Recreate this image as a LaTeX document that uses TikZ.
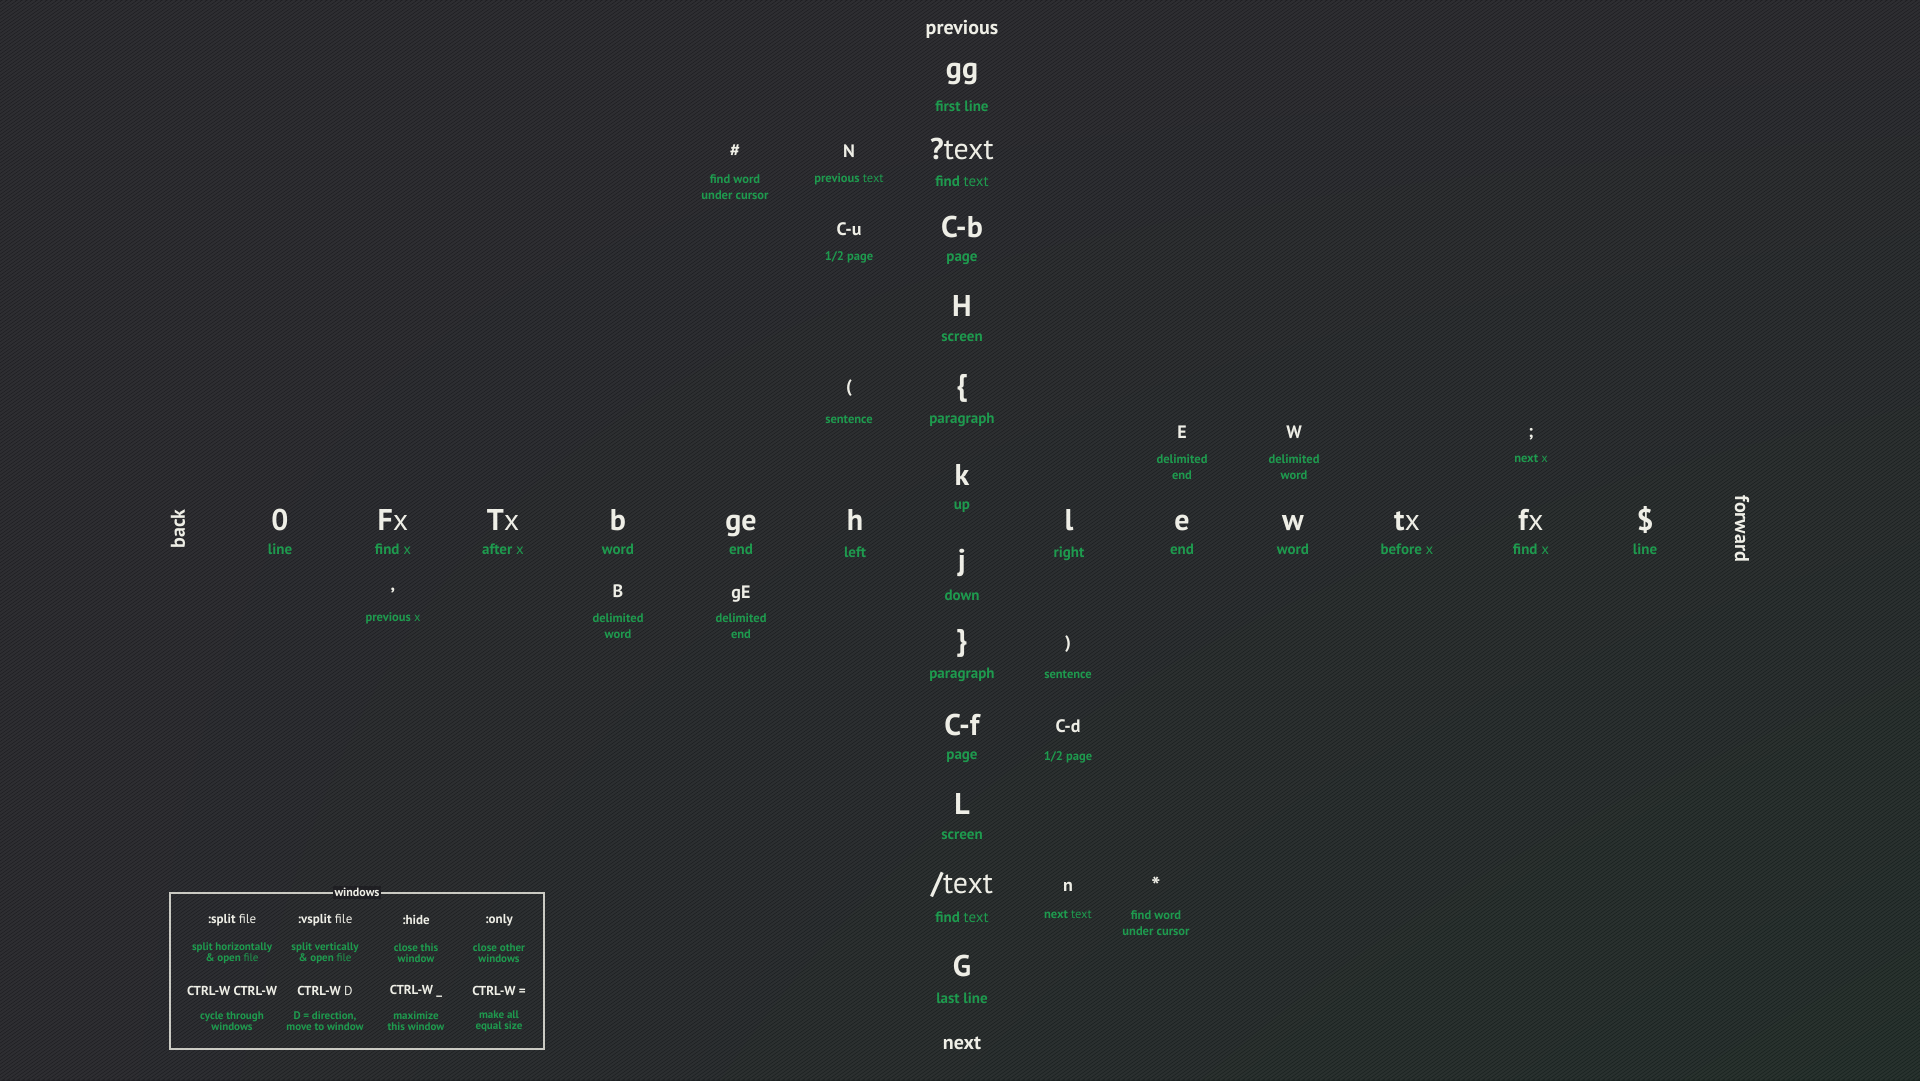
\documentclass[tikz,border=0pt]{standalone}
\usepackage{fontspec}
\setmainfont{PT Sans}
\usetikzlibrary{shadings}
\definecolor{bg}{HTML}{1F1F23}
\definecolor{bgg}{HTML}{18231F}
\definecolor{keyc}{HTML}{EEEEE6}
\definecolor{lbl}{HTML}{1E9A4E}
\begin{document}
\begin{tikzpicture}[x=1pt,y=-1pt,
bigkey/.style={text=keyc,inner sep=0,font=\bfseries\fontsize{30}{30}\selectfont},
smallkey/.style={text=keyc,inner sep=0,font=\bfseries\fontsize{18}{18}\selectfont},
lab/.style={text=lbl,inner sep=0,font=\bfseries\fontsize{15}{15}\selectfont},
sublab/.style={text=lbl,inner sep=0,align=center,font=\bfseries\fontsize{12.5}{15.5}\selectfont},
edge/.style={text=keyc,inner sep=0,font=\bfseries\fontsize{20}{20}\selectfont},
wcmd/.style={text=keyc,inner sep=0,font=\bfseries\fontsize{13}{13}\selectfont},
wlab/.style={text=lbl,inner sep=0,align=center,font=\bfseries\fontsize{11}{11.5}\selectfont}]
\shade[upper left=bg,upper right=bg,lower left=bg,lower right=bgg](0,0)rectangle(1920,1080);
\begin{scope}\clip(0,0)rectangle(1920,1080);
\foreach \i in {-1540,-1535,...,1920}\draw[white,opacity=.07,line width=2](\i,1080)--++(1540,-1080);
\end{scope}
\useasboundingbox(0,0)rectangle(1920,1080);
\node[edge](prev)at(962,29){previous};\node[edge](next)at(962,1043){next};
\node[edge,rotate=90](back)at(178,529){back};\node[edge,rotate=-90](fwd)at(1742,529){forward};
\foreach \n/\y/\k/\l in {gg/74/gg/{first line},qt/149/{?{\mdseries text}}/{find {\mdseries text}},Cb/227/C-b/page,H/306/H/screen,lb/388/\{/paragraph,k/475/k/up,j/563/j/down,rb/643/\}/paragraph,Cf/725/C-f/page,L/804/L/screen,sl/885/{/{\mdseries text}}/{find {\mdseries text}},G/966/G/{last line}}
{\node[bigkey](\n)at(962,\y){\k};\node[lab](\n-l)at(962,\y+32){\l};}
\node[smallkey](hash)at(735,151){\#};\node[sublab](hash-l)at(735,187){find word\\under cursor};
\node[smallkey](N)at(849,151){N};\node[sublab](N-l)at(849,179){previous {\mdseries text}};
\node[smallkey](Cu)at(849,229){C-u};\node[sublab](Cu-l)at(849,257){1/2 page};
\node[smallkey](lp)at(849,388){(};\node[sublab](lp-l)at(849,420){sentence};
\node[smallkey](rp)at(1068,644){)};\node[sublab](rp-l)at(1068,675){sentence};
\node[smallkey](Cd)at(1068,726){C-d};\node[sublab](Cd-l)at(1068,757){1/2 page};
\node[smallkey](n)at(1068,887){n};\node[sublab](n-l)at(1068,915){next {\mdseries text}};
\node[smallkey,font=\bfseries\fontsize{24}{24}\selectfont](star)at(1156,886){*};\node[sublab](star-l)at(1156,923){find word\\under cursor};
\foreach \n/\x/\k/\l in {zero/280/0/line,Fx/393/F{\mdseries x}/{find {\mdseries x}},Tx/503/T{\mdseries x}/{after {\mdseries x}},b/618/b/word,ge/741/ge/end,e/1182/e/end,w/1293/w/word,tx/1407/t{\mdseries x}/{before {\mdseries x}},fx/1531/f{\mdseries x}/{find {\mdseries x}},dollar/1645/\$/line}
{\node[bigkey,anchor=base](\n)at(\x,530){\k};\node[lab,anchor=base](\n-l)at(\x,554){\l};}
\node[bigkey,anchor=base](h)at(855,530){h};\node[lab,anchor=base](h-l)at(855,557){left};
\node[bigkey,anchor=base](l)at(1069,530){l};\node[lab,anchor=base](l-l)at(1069,557){right};
\node[smallkey](E)at(1182,432){E};\node[sublab](E-l)at(1182,467){delimited\\end};
\node[smallkey](W)at(1294,432){W};\node[sublab](W-l)at(1294,467){delimited\\word};
\node[smallkey](semi)at(1531,434){;};\node[sublab](semi-l)at(1531,459){next {\mdseries x}};
\node[smallkey](comma)at(393,591){,};\node[sublab](comma-l)at(393,618){previous {\mdseries x}};
\node[smallkey](B)at(618,591){B};\node[sublab](B-l)at(618,626){delimited\\word};
\node[smallkey](gE)at(741,594){gE};\node[sublab](gE-l)at(741,626){delimited\\end};
\node[draw=keyc!85!black,line width=1.2,minimum width=374,minimum height=156,inner sep=0](win)at(357,971){};
\node[fill=bg,text=keyc,inner sep=2,font=\bfseries\fontsize{12}{12}\selectfont](win-t)at(win.north){windows};
\foreach \n/\x/\c/\d/\k/\e in {sp/232/{:split {\mdseries file}}/{split horizontally\\\& open {\mdseries file}}/{CTRL-W CTRL-W}/{cycle through\\windows},vs/325/{:vsplit {\mdseries file}}/{split vertically\\\& open {\mdseries file}}/{CTRL-W {\mdseries D}}/{D = direction,\\move to window},hd/416/{:hide}/{close this\\window}/{CTRL-W \_}/{maximize\\this window},on/499/{:only}/{close other\\windows}/{CTRL-W =}/{make all\\equal size}}
{\node[wcmd](\n-c)at(\x,920){\c};\node[wlab](\n-d)at(\x,953){\d};\node[wcmd](\n-k)at(\x,991){\k};\node[wlab](\n-e)at(\x,1021){\e};}
\end{tikzpicture}
\end{document}
